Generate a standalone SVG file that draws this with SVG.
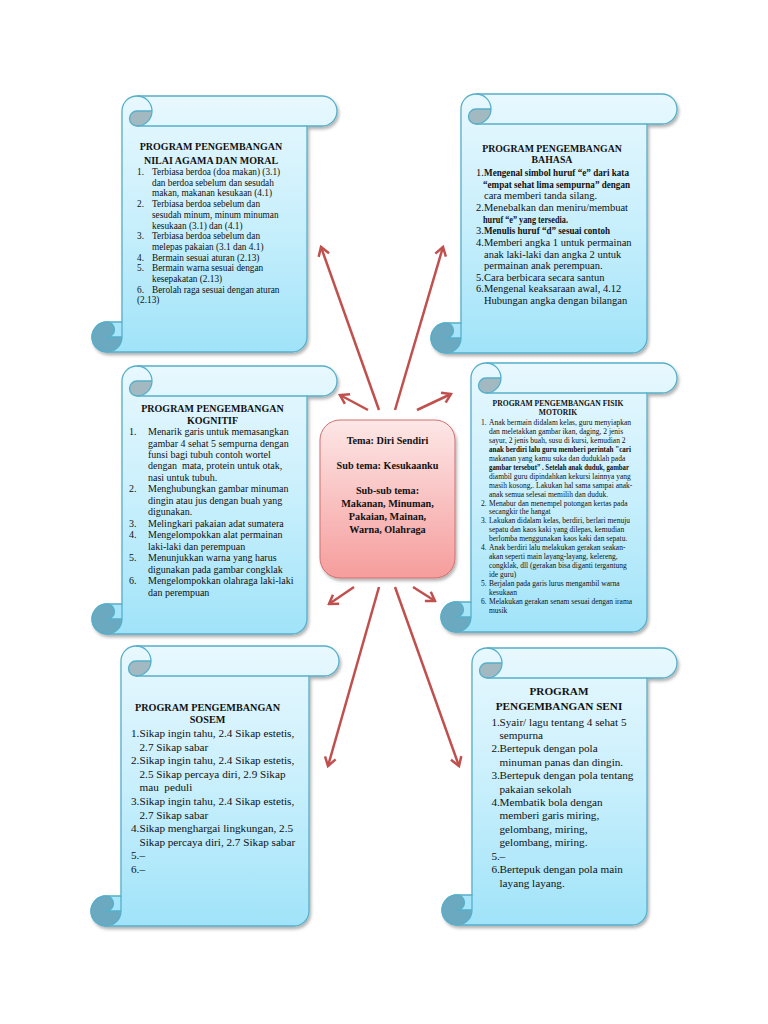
<svg xmlns="http://www.w3.org/2000/svg" xmlns:xlink="http://www.w3.org/1999/xlink" width="768" height="1024" viewBox="0 0 768 1024">
<style>
text { font-family: "Liberation Serif", "Times New Roman", serif; fill: #111; }
.ttl { font-weight: bold; text-anchor: middle; }
.b { font-weight: bold; }
.scroll { fill: url(#gS); stroke: #55afc9; stroke-width: 1.3; filter: url(#sh); }
.ln { fill: none; stroke: #55afc9; stroke-width: 1.3; }
.dk1 { fill: #a3b9c2; }
.dk2 { fill: #6aa9bf; }
.ctr text { font-weight: bold; text-anchor: middle; font-size: 10.2px; }
.conn line { stroke: #c0504d; stroke-width: 2.5; marker-end: url(#ah); }
</style>
<defs>
<linearGradient id="gS" x1="0" y1="0" x2="0" y2="1">
<stop offset="0" stop-color="#e8f8fe"/>
<stop offset="0.5" stop-color="#c8effc"/>
<stop offset="1" stop-color="#a0e3f9"/>
</linearGradient>
<linearGradient id="gC" x1="0" y1="0" x2="0" y2="1">
<stop offset="0" stop-color="#fde7e7"/>
<stop offset="1" stop-color="#f59d9c"/>
</linearGradient>
<filter id="sh" x="-10%" y="-10%" width="120%" height="120%">
<feDropShadow dx="1.5" dy="2.5" stdDeviation="1.8" flood-color="#000" flood-opacity="0.3"/>
</filter>
<marker id="ah" viewBox="-11 -7 13 14" refX="0" refY="0" markerWidth="13" markerHeight="14" markerUnits="userSpaceOnUse" orient="auto">
<path d="M-8.5,-5.5 L0,0 L-8.5,5.5" fill="none" stroke="#c0504d" stroke-width="2.5" stroke-linejoin="miter"/>
</marker>
<g id="ct">
<path class="dk1" d="M60,15 A15,15 0 0 1 45,30 A7.5,7.5 0 0 1 45,15 Z"/>
<path class="ln" d="M45,0 A15,15 0 0 1 45,30 A7.5,7.5 0 0 1 45,15 L60,15"/>
</g>
<g id="cb">
<path class="dk2" d="M30,-15 A15,15 0 0 1 15,0 A15,15 0 0 1 15,-30 A7.5,7.5 0 0 1 15,-15 Z"/>
<path class="ln" d="M15,-30 A7.5,7.5 0 0 1 15,-15 L30,-15 M15,0 A15,15 0 0 0 30,-15 L30,-30 M15,0 A15,15 0 0 1 15,-30"/>
</g>
</defs>
<rect width="768" height="1024" fill="#fff"/>

<g class="conn" id="connectors">
<line x1="379" y1="410" x2="321" y2="247"/>
<line x1="395" y1="410" x2="443" y2="247"/>
<line x1="368" y1="410" x2="340" y2="395"/>
<line x1="417" y1="410" x2="451" y2="394"/>
<line x1="354" y1="587" x2="329" y2="604"/>
<line x1="379" y1="587" x2="328" y2="766"/>
<line x1="395" y1="587" x2="459" y2="766"/>
<line x1="413" y1="587" x2="435" y2="601"/>
</g>

<g id="center" class="ctr">
<rect x="320" y="420" width="135" height="158" rx="20" fill="url(#gC)" stroke="#d0706e" stroke-width="1" filter="url(#sh)"/>
<text x="387.5" y="443.5">Tema: Diri Sendiri</text>
<text x="387.5" y="468.5">Sub tema: Kesukaanku</text>
<text x="387.5" y="493.5">Sub-sub tema:</text>
<text x="387.5" y="506.5">Makanan, Minuman,</text>
<text x="387.5" y="519.5">Pakaian, Mainan,</text>
<text x="387.5" y="532.5">Warna, Olahraga</text>
</g>

<g id="nilai-agama-moral">
<g transform="translate(92,96)">
<path class="scroll" d="M30,226 L30,15 A15,15 0 0 1 45,0 L230,0 A15,15 0 0 1 230,30 L215,30 L215,241 A15,15 0 0 1 200,256 L15,256 A15,15 0 0 1 15,226 Z"/>
<use href="#ct"/>
<path class="ln" d="M215,30 L45,30"/>
<use href="#cb" y="256"/>
</g>
<text class="ttl" x="211" y="150" font-size="10">PROGRAM PENGEMBANGAN</text>
<text class="ttl" x="211" y="163.5" font-size="10">NILAI AGAMA DAN MORAL</text>
<g font-size="9.3">
<text x="137" y="175">1.</text><text x="152" y="175">Terbiasa berdoa (doa makan) (3.1)</text>
<text x="152" y="185.7">dan berdoa sebelum dan sesudah</text>
<text x="152" y="196.4">makan, makanan kesukaan (4.1)</text>
<text x="137" y="207.1">2.</text><text x="152" y="207.1">Terbiasa berdoa sebelum dan</text>
<text x="152" y="217.8">sesudah minum, minum minuman</text>
<text x="152" y="228.5">kesukaan (3.1) dan (4.1)</text>
<text x="137" y="239.2">3.</text><text x="152" y="239.2">Terbiasa berdoa sebelum dan</text>
<text x="152" y="249.9">melepas pakaian (3.1 dan 4.1)</text>
<text x="137" y="260.6">4.</text><text x="152" y="260.6">Bermain sesuai aturan (2.13)</text>
<text x="137" y="271.3">5.</text><text x="152" y="271.3">Bermain warna sesuai dengan</text>
<text x="152" y="282">kesepakatan (2.13)</text>
<text x="137" y="292.7">6.</text><text x="152" y="292.7">Berolah raga sesuai dengan aturan</text>
<text x="137" y="303.4">(2.13)</text>
</g>
</g>

<g id="bahasa">
<g transform="translate(431,94)">
<path class="scroll" d="M30,229 L30,15 A15,15 0 0 1 45,0 L231,0 A15,15 0 0 1 231,30 L216,30 L216,244 A15,15 0 0 1 201,259 L15,259 A15,15 0 0 1 15,229 Z"/>
<use href="#ct"/>
<path class="ln" d="M216,30 L45,30"/>
<use href="#cb" y="259"/>
</g>
<text class="ttl" x="552" y="152" font-size="9.8">PROGRAM PENGEMBANGAN</text>
<text class="ttl" x="552" y="163" font-size="9.8">BAHASA</text>
<g font-size="10.5">
<text x="476" y="176">1.</text><text class="b" x="484" y="176" textLength="145" lengthAdjust="spacingAndGlyphs">Mengenal simbol huruf “e” dari kata</text>
<text class="b" x="483" y="187.6" textLength="147" lengthAdjust="spacingAndGlyphs">“empat sehat lima sempurna” dengan</text>
<text x="484" y="199.3">cara memberi tanda silang.</text>
<text x="476" y="210.9">2.</text><text x="484" y="210.9">Menebalkan dan meniru/membuat</text>
<text class="b" x="483" y="222.6" textLength="85" lengthAdjust="spacingAndGlyphs">huruf “e” yang tersedia.</text>
<text x="476" y="234.2">3.</text><text class="b" x="484" y="234.2" textLength="126" lengthAdjust="spacingAndGlyphs">Menulis huruf “d” sesuai contoh</text>
<text x="476" y="245.8">4.</text><text x="484" y="245.8">Memberi angka 1 untuk permainan</text>
<text x="484" y="257.5">anak laki-laki dan angka 2 untuk</text>
<text x="484" y="269.1">permainan anak perempuan.</text>
<text x="476" y="280.8">5.</text><text x="484" y="280.8">Cara berbicara secara santun</text>
<text x="476" y="292.4">6.</text><text x="484" y="292.4">Mengenal keaksaraan awal, 4.12</text>
<text x="484" y="304">Hubungan angka dengan bilangan</text>
</g>
</g>

<g id="kognitif">
<g transform="translate(92,366)">
<path class="scroll" d="M30,238 L30,15 A15,15 0 0 1 45,0 L230,0 A15,15 0 0 1 230,30 L215,30 L215,253 A15,15 0 0 1 200,268 L15,268 A15,15 0 0 1 15,238 Z"/>
<use href="#ct"/>
<path class="ln" d="M215,30 L45,30"/>
<use href="#cb" y="268"/>
</g>
<text class="ttl" x="212.5" y="412" font-size="10">PROGRAM PENGEMBANGAN</text>
<text class="ttl" x="212.5" y="423.5" font-size="10">KOGNITIF</text>
<g font-size="10">
<text x="129" y="435">1.</text><text x="148" y="435">Menarik garis untuk memasangkan</text>
<text x="148" y="446.5">gambar 4 sehat 5 sempurna dengan</text>
<text x="148" y="457.9">funsi bagi tubuh contoh wortel</text>
<text x="148" y="469.4">dengan &#160;mata, protein untuk otak,</text>
<text x="148" y="480.9">nasi untuk tubuh.</text>
<text x="129" y="492.4">2.</text><text x="148" y="492.4">Menghubungkan gambar minuman</text>
<text x="148" y="503.8">dingin atau jus dengan buah yang</text>
<text x="148" y="515.3">digunakan.</text>
<text x="129" y="526.8">3.</text><text x="148" y="526.8">Melingkari pakaian adat sumatera</text>
<text x="129" y="538.2">4.</text><text x="148" y="538.2">Mengelompokkan alat permainan</text>
<text x="148" y="549.7">laki-laki dan perempuan</text>
<text x="129" y="561.2">5.</text><text x="148" y="561.2">Menunjukkan warna yang harus</text>
<text x="148" y="572.6">digunakan pada gambar congklak</text>
<text x="129" y="584.1">6.</text><text x="148" y="584.1">Mengelompokkan olahraga laki-laki</text>
<text x="148" y="595.6">dan perempuan</text>
</g>
</g>

<g id="fisik-motorik">
<g transform="translate(441,363)">
<path class="scroll" d="M30,239 L30,15 A15,15 0 0 1 45,0 L221,0 A15,15 0 0 1 221,30 L206,30 L206,254 A15,15 0 0 1 191,269 L15,269 A15,15 0 0 1 15,239 Z"/>
<use href="#ct"/>
<path class="ln" d="M206,30 L45,30"/>
<use href="#cb" y="269"/>
</g>
<text class="ttl" x="558" y="405.5" font-size="7.6">PROGRAM PENGEMBANGAN FISIK</text>
<text class="ttl" x="558" y="414.5" font-size="7.6">MOTORIK</text>
<g font-size="7.5">
<text x="481" y="425.2">1.</text><text x="489" y="425.2">Anak bermain didalam kelas, guru menyiapkan</text>
<text x="489" y="434.1">dan meletakkan gambar ikan, daging, 2 jenis</text>
<text x="489" y="443">sayur, 2 jenis buah, susu di kursi, kemudian 2</text>
<text class="b" x="489" y="452" textLength="142" lengthAdjust="spacingAndGlyphs">anak berdiri lalu guru memberi perintah "cari</text>
<text x="489" y="460.9">makanan yang kamu suka dan duduklah pada</text>
<text class="b" x="489" y="469.8" textLength="140" lengthAdjust="spacingAndGlyphs">gambar tersebut” . Setelah anak duduk, gambar</text>
<text x="489" y="478.7">diambil guru dipindahkan kekursi lainnya yang</text>
<text x="489" y="487.6">masih kosong,. Lakukan hal sama sampai anak-</text>
<text x="489" y="496.6">anak semua selesai memilih dan duduk.</text>
<text x="481" y="505.5">2.</text><text x="489" y="505.5">Menabur dan menempel potongan kertas pada</text>
<text x="489" y="514.4">secangkir the hangat</text>
<text x="481" y="523.3">3.</text><text x="489" y="523.3">Lakukan didalam kelas, berdiri, berlari menuju</text>
<text x="489" y="532.2">sepatu dan kaos kaki yang dilepas, kemudian</text>
<text x="489" y="541.2">berlomba menggunakan kaos kaki dan sepatu.</text>
<text x="481" y="550.1">4.</text><text x="489" y="550.1">Anak berdiri lalu melakukan gerakan seakan-</text>
<text x="489" y="559">akan seperti main layang-layang, kelereng,</text>
<text x="489" y="567.9">congklak, dll (gerakan bisa diganti tergantung</text>
<text x="489" y="576.8">ide guru)</text>
<text x="481" y="585.8">5.</text><text x="489" y="585.8">Berjalan pada garis lurus mengambil warna</text>
<text x="489" y="594.7">kesukaan</text>
<text x="481" y="603.6">6.</text><text x="489" y="603.6">Melakukan gerakan senam sesuai dengan irama</text>
<text x="489" y="612.5">musik</text>
</g>
</g>

<g id="sosem">
<g transform="translate(91,646)">
<path class="scroll" d="M30,250 L30,15 A15,15 0 0 1 45,0 L233,0 A15,15 0 0 1 233,30 L218,30 L218,265 A15,15 0 0 1 203,280 L15,280 A15,15 0 0 1 15,250 Z"/>
<use href="#ct"/>
<path class="ln" d="M218,30 L45,30"/>
<use href="#cb" y="280"/>
</g>
<text class="ttl" x="207.5" y="711" font-size="10.2">PROGRAM PENGEMBANGAN</text>
<text class="ttl" x="207.5" y="723" font-size="10.2">SOSEM</text>
<g font-size="11.2">
<text x="131" y="737">1.</text><text x="139.5" y="737">Sikap ingin tahu, 2.4 Sikap estetis,</text>
<text x="139.5" y="750.6">2.7 Sikap sabar</text>
<text x="131" y="764.2">2.</text><text x="139.5" y="764.2">Sikap ingin tahu, 2.4 Sikap estetis,</text>
<text x="139.5" y="777.8">2.5 Sikap percaya diri, 2.9 Sikap</text>
<text x="139.5" y="791.4">mau &#160;peduli</text>
<text x="131" y="805">3.</text><text x="139.5" y="805">Sikap ingin tahu, 2.4 Sikap estetis,</text>
<text x="139.5" y="818.6">2.7 Sikap sabar</text>
<text x="131" y="832.2">4.</text><text x="139.5" y="832.2">Sikap menghargai lingkungan, 2.5</text>
<text x="139.5" y="845.8">Sikap percaya diri, 2.7 Sikap sabar</text>
<text x="131" y="859.4">5.</text><text x="139.5" y="859.4">–</text>
<text x="131" y="873">6.</text><text x="139.5" y="873">–</text>
</g>
</g>

<g id="seni">
<g transform="translate(442,648)">
<path class="scroll" d="M30,247 L30,15 A15,15 0 0 1 45,0 L220,0 A15,15 0 0 1 220,30 L205,30 L205,262 A15,15 0 0 1 190,277 L15,277 A15,15 0 0 1 15,247 Z"/>
<use href="#ct"/>
<path class="ln" d="M205,30 L45,30"/>
<use href="#cb" y="277"/>
</g>
<text class="ttl" x="559" y="695" font-size="11.2">PROGRAM</text>
<text class="ttl" x="559" y="709.5" font-size="11.2">PENGEMBANGAN SENI</text>
<g font-size="11.2">
<text x="491.5" y="725.5">1.</text><text x="499.5" y="725.5">Syair/ lagu tentang 4 sehat 5</text>
<text x="499.5" y="738.9">sempurna</text>
<text x="491.5" y="752.3">2.</text><text x="499.5" y="752.3">Bertepuk dengan pola</text>
<text x="499.5" y="765.8">minuman panas dan dingin.</text>
<text x="491.5" y="779.2">3.</text><text x="499.5" y="779.2">Bertepuk dengan pola tentang</text>
<text x="499.5" y="792.6">pakaian sekolah</text>
<text x="491.5" y="806">4.</text><text x="499.5" y="806">Membatik bola dengan</text>
<text x="499.5" y="819.4">memberi garis miring,</text>
<text x="499.5" y="832.9">gelombang, miring,</text>
<text x="499.5" y="846.3">gelombang, miring.</text>
<text x="491.5" y="859.7">5.</text><text x="499.5" y="859.7">–</text>
<text x="491.5" y="873.1">6.</text><text x="499.5" y="873.1">Bertepuk dengan pola main</text>
<text x="499.5" y="886.5">layang layang.</text>
</g>
</g>
</svg>
